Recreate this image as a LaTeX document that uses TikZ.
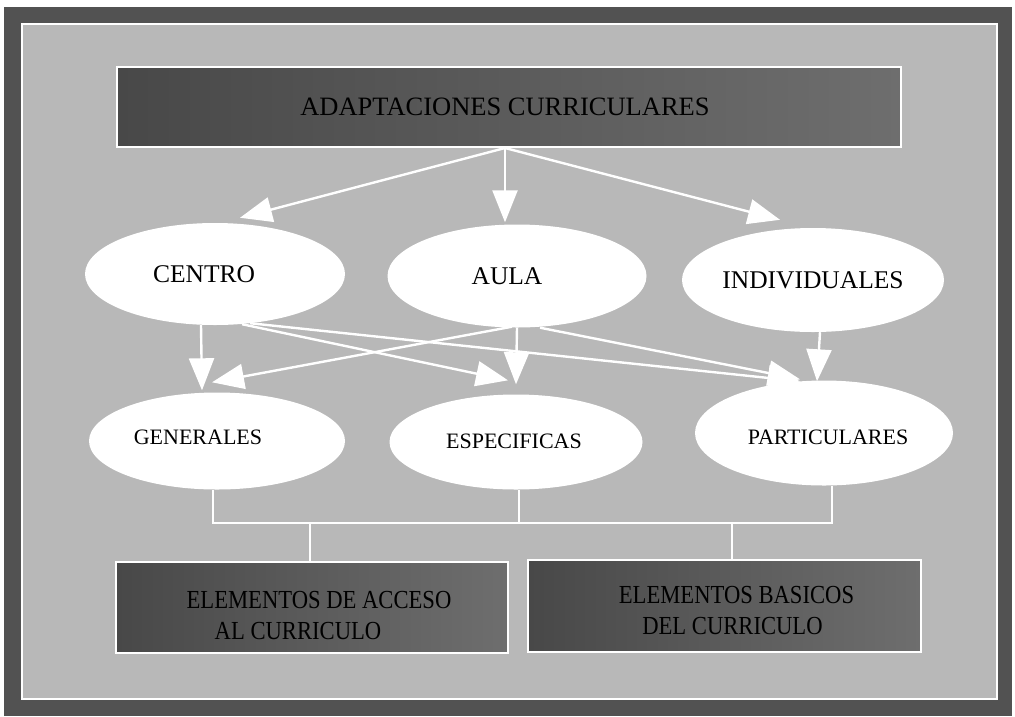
\documentclass[tikz,border=0pt]{standalone}
\usepackage{fontspec}
\setmainfont{Liberation Serif}
\usepackage{graphicx}
\usetikzlibrary{shapes.geometric,arrows.meta}
\definecolor{frameDark}{HTML}{525252}
\definecolor{panelGray}{HTML}{B8B8B8}
\definecolor{boxDarkL}{HTML}{484848}
\definecolor{boxDarkR}{HTML}{6E6E6E}
\begin{document}
\begin{tikzpicture}[x=1pt,y=-1pt,
  ell/.style={ellipse,fill=white,inner sep=0pt,text=black},
  rowone/.style={ell,font=\fontsize{25.5}{30}\selectfont},
  rowtwo/.style={ell,font=\fontsize{22}{26}\selectfont},
  darkbox/.style={rectangle,draw=white,line width=2pt,inner sep=0pt,left color=boxDarkL,right color=boxDarkR,text=black},
  arr/.style={draw=white,line width=2.4pt,-{Triangle[width=25pt,length=32pt]}},
  wline/.style={draw=white,line width=2pt}]
\useasboundingbox (0,0) rectangle (1015,716);
\fill[white] (0,0) rectangle (1015,716);
\fill[frameDark] (4,7) rectangle (1012,716);
\fill[panelGray] (22,24) rectangle (997,699);
\draw[wline] (22,24) rectangle (997,699);

\node[darkbox,minimum width=784pt,minimum height=80pt,font=\fontsize{26.5}{30}\selectfont] (top) at (509,107) {\hspace*{-8pt}ADAPTACIONES CURRICULARES};

\node[rowone,minimum width=260pt,minimum height=102pt] (centro) at (215,274) {\hspace*{-22pt}CENTRO};
\node[rowone,minimum width=259pt,minimum height=103pt] (aula) at (517,276) {\hspace*{-20pt}AULA};
\node[rowone,minimum width=262pt,minimum height=104pt] (indiv) at (813,280) {INDIVIDUALES};

\node[rowtwo,minimum width=256pt,minimum height=97pt] (gen) at (217,441) {\hspace*{-38pt}\raisebox{4pt}[\height][\depth]{GENERALES}};
\node[rowtwo,minimum width=253pt,minimum height=95pt] (esp) at (516,442) {\hspace*{-4pt}\raisebox{1pt}[\height][\depth]{ESPECIFICAS}};
\node[rowtwo,minimum width=258pt,minimum height=105pt] (part) at (824,433) {\hspace*{8pt}\raisebox{-4pt}[\height][\depth]{PARTICULARES}};

\node[darkbox,minimum width=392pt,minimum height=91pt,align=center,font=\fontsize{26}{31}\selectfont] (acc) at (312,607.5)
  {\rule{0pt}{33pt}\hspace*{14pt}\scalebox{0.87}[1]{ELEMENTOS DE ACCESO}\\\hspace*{-28pt}\scalebox{0.87}[1]{AL CURRICULO}};
\node[darkbox,minimum width=393pt,minimum height=92pt,align=center,font=\fontsize{26}{31}\selectfont] (bas) at (724.5,606)
  {\rule{0pt}{27pt}\hspace*{24pt}\scalebox{0.87}[1]{ELEMENTOS BASICOS}\\\hspace*{16pt}\scalebox{0.87}[1]{DEL CURRICULO}};

% arrows from the title
\draw[arr] ([xshift=-4pt]top.south) -- ([xshift=25pt,yshift=5pt]centro.north);
\draw[arr] ([xshift=-4pt]top.south) -- ([xshift=-12pt,yshift=2pt]aula.north);
\draw[arr] ([xshift=-4pt]top.south) -- ([xshift=-33pt,yshift=8pt]indiv.north);

% arrows between rows
\draw[arr] ([xshift=-14pt]centro.south) -- ([xshift=-15pt,yshift=2pt]gen.north);
\draw[arr] ([xshift=-5pt,yshift=1pt]aula.south) -- ([xshift=-5pt,yshift=10pt]gen.north);
\draw[arr] ([xshift=27pt,yshift=1pt]centro.south) -- ([xshift=-8pt,yshift=14pt]esp.north);
\draw[arr] ([xshift=35pt,yshift=2pt]centro.south) -- ([xshift=-24pt,yshift=-1pt]part.north);
\draw[arr] (aula.south) -- ([yshift=10pt]esp.north);
\draw[arr] ([xshift=23pt]aula.south) -- ([xshift=-24pt,yshift=1pt]part.north);
\draw[arr] ([xshift=7pt]indiv.south) -- ([xshift=-7pt,yshift=-1pt]part.north);

% bracket to the bottom boxes
\coordinate (br) at (832,523);
\draw[wline] ([xshift=-4pt]gen.south) |- (br) -- ([xshift=8pt]part.south);
\draw[wline] ([xshift=3pt]esp.south) |- (br);
\draw[wline] ([xshift=-2pt]acc.north) |- (br);
\draw[wline] ([xshift=7.5pt]bas.north) |- (br);
\end{tikzpicture}
\end{document}
